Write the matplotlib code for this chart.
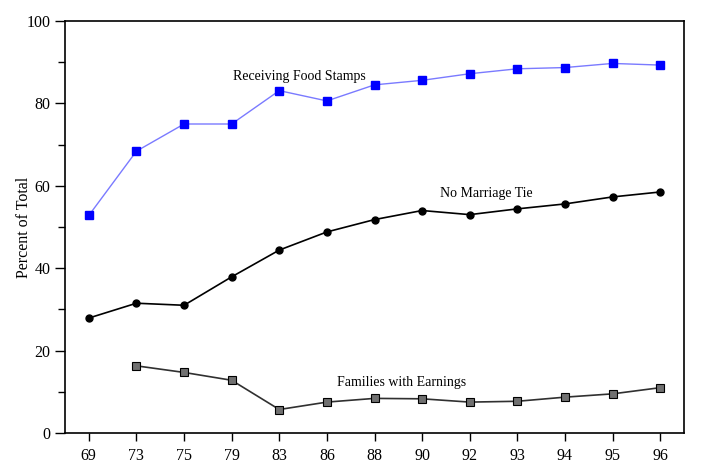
import numpy as np
import matplotlib
matplotlib.use('Agg')
import matplotlib.pyplot as plt
import matplotlib.ticker as ticker

plt.rc('font', family='Liberation Serif')

# ------------- data ---------------------
years = ['69', '73', '75', '79', '83', '86', '88', '90', '92', '93', '94', '95', '96']
food_stamps = [52.8, 68.4, 75.0, 75.0, 83.1, 80.6, 84.5, 85.6, 87.2, 88.4, 88.7, 89.7, 89.3]
no_marriage = [27.9, 31.5, 31.0, 37.9, 44.4, 48.8, 51.8, 54.0, 53.0, 54.4, 55.6, 57.3, 58.5]
earn_years = ['73', '75', '79', '83', '86', '88', '90', '92', '93', '94', '95', '96']
with_earnings = [16.3, 14.7, 12.8, 5.7, 7.5, 8.4, 8.3, 7.5, 7.7, 8.7, 9.5, 11.0]

x = np.arange(len(years))
x_earn = np.array([years.index(y) for y in earn_years])

fig = plt.figure(figsize=(7.04, 4.68), dpi=100)
ax = fig.add_axes([65/704, 35/468, (684-65)/704, (433-21)/468])

ax.plot(x, food_stamps, color='#7a7aff', linewidth=1.0, marker='s', markersize=6,
        markerfacecolor='#0000ff', markeredgecolor='#0000ff')
ax.plot(x, no_marriage, color='black', linewidth=1.2, marker='o', markersize=5,
        markerfacecolor='black', markeredgecolor='black')
ax.plot(x_earn, with_earnings, color='#303030', linewidth=1.2, marker='s', markersize=5.5,
        markerfacecolor='#707070', markeredgecolor='black', markeredgewidth=0.8)

ax.text(4.43, 86.6, 'Receiving Food Stamps', ha='center', va='center', fontsize=10)
ax.text(8.35, 58.1, 'No Marriage Tie', ha='center', va='center', fontsize=10)
ax.text(6.57, 12.2, 'Families with Earnings', ha='center', va='center', fontsize=10)

ax.set_xlim(-0.5, len(years) - 0.5)
ax.set_ylim(0, 100)
ax.set_xticks(x)
ax.set_xticklabels(years)
ax.yaxis.set_major_locator(ticker.MultipleLocator(20))
ax.yaxis.set_minor_locator(ticker.MultipleLocator(10))
ax.tick_params(axis='both', which='major', direction='out', length=7, width=1.0, labelsize=11.5)
ax.tick_params(axis='y', which='minor', direction='out', length=5, width=1.0)
ax.tick_params(axis='x', which='major', length=6, pad=5)
for s in ax.spines.values():
    s.set_linewidth(1.2)

ax.set_ylabel('Percent of Total', fontsize=11.5)
ax.yaxis.set_label_coords(-0.053, 0.5)

fig.savefig('out.png', dpi=100)
